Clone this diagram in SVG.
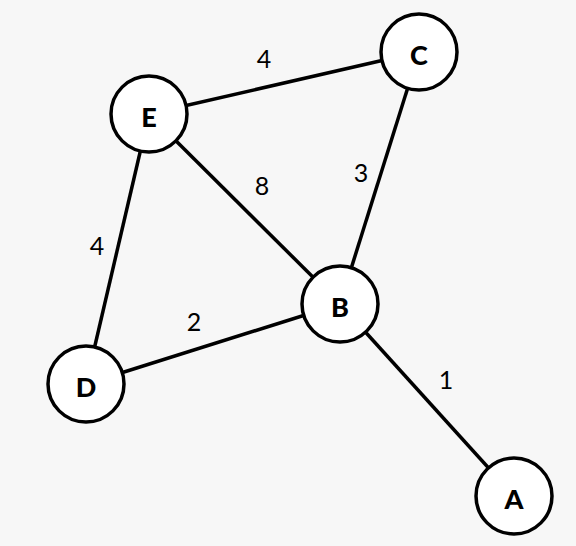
<svg xmlns="http://www.w3.org/2000/svg" width="576" height="546" viewBox="0 0 576 546">
<style>
.edge{stroke:#000;stroke-width:3.5;fill:none}
.node circle{fill:#fff;stroke:#000;stroke-width:3.5}
.node text{font-family:Lato,"Noto Sans",sans-serif;font-weight:900;font-size:27px;text-anchor:middle;dominant-baseline:central;fill:#000}
.w{font-family:Lato,"Noto Sans",sans-serif;font-size:25px;text-anchor:middle;dominant-baseline:central;fill:#000}
</style>
<rect width="576" height="546" fill="#f7f7f7"/>
<g id="connectors">
<line class="edge" x1="149" y1="114" x2="419" y2="52"/>
<line class="edge" x1="149" y1="114" x2="340" y2="304"/>
<line class="edge" x1="419" y1="52" x2="340" y2="304"/>
<line class="edge" x1="149" y1="114" x2="86" y2="384"/>
<line class="edge" x1="86" y1="384" x2="340" y2="304"/>
<line class="edge" x1="340" y1="304" x2="514" y2="496"/>
<text class="w" x="264" y="58">4</text>
<text class="w" x="262" y="185">8</text>
<text class="w" x="361" y="172">3</text>
<text class="w" x="97" y="245">4</text>
<text class="w" x="194" y="321">2</text>
<text class="w" x="446" y="379">1</text>
</g>
<g id="node-E" class="node"><circle cx="149" cy="114" r="38"/><text x="149" y="116">E</text></g>
<g id="node-C" class="node"><circle cx="419" cy="52" r="38"/><text x="419" y="54">C</text></g>
<g id="node-B" class="node"><circle cx="340" cy="304" r="38"/><text x="340" y="306">B</text></g>
<g id="node-D" class="node"><circle cx="86" cy="384" r="38"/><text x="86" y="386">D</text></g>
<g id="node-A" class="node"><circle cx="514" cy="496" r="38"/><text x="514" y="498">A</text></g>
</svg>
